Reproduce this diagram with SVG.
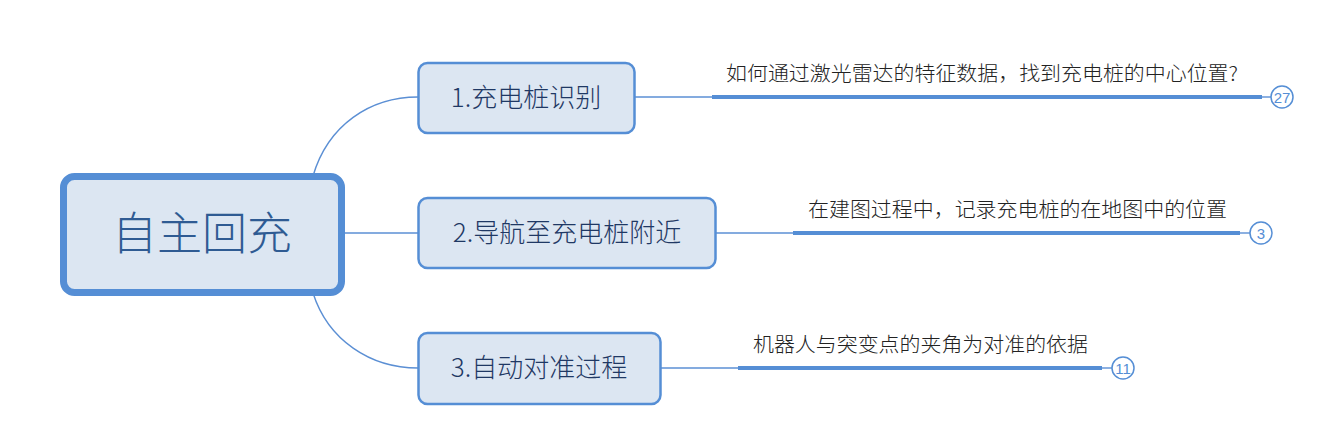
<svg xmlns="http://www.w3.org/2000/svg" width="1339" height="448" viewBox="0 0 1339 448">
<style>
.conn{fill:none;stroke:#5b8fd4;stroke-width:1.4}
.bar{fill:none;stroke:#558ed5;stroke-width:4}
.badge{fill:#fff;stroke:#558ed5;stroke-width:1.5}
.badge-t{font-family:"Liberation Sans",Arial,sans-serif;font-size:15px;fill:#558ed5;text-anchor:middle}
.node{fill:#dce6f2;stroke:#558ed5;stroke-width:2.5}
.node-t{font-family:"Noto Sans CJK SC","Microsoft YaHei",sans-serif;font-size:26px;font-weight:300;fill:#1f3864;text-anchor:middle}
.leaf-t{font-family:"Noto Sans CJK SC","Microsoft YaHei",sans-serif;font-size:20px;font-weight:300;fill:#222}
</style>
<rect width="1339" height="448" fill="#fff"/>
<g id="connectors">
<path class="conn" d="M313,176 C328,125 370,97 418,97"/>
<path class="conn" d="M345,233 L418,233"/>
<path class="conn" d="M313,293 C328,340 370,368 418,368"/>
<path class="conn" d="M635,97 L712,97"/>
<path class="bar" d="M712,97 L1262,97"/>
<path class="conn" d="M1262,97 L1271,97"/>
<path class="conn" d="M716,233 L793,233"/>
<path class="bar" d="M793,233 L1240,233"/>
<path class="conn" d="M1240,233 L1250,233"/>
<path class="conn" d="M661,368 L738,368"/>
<path class="bar" d="M738,368 L1102,368"/>
<path class="conn" d="M1102,368 L1112,368"/>
</g>
<g id="root">
<rect x="63.5" y="176.5" width="278" height="116" rx="11" fill="#dce6f2" stroke="#558ed5" stroke-width="7"/>
<text x="202" y="250" font-family="'Noto Sans CJK SC','Microsoft YaHei',sans-serif" font-size="45" font-weight="300" fill="#2f5b93" text-anchor="middle">自主回充</text>
</g>
<g id="node1">
<rect class="node" x="418.5" y="63" width="216" height="70" rx="9"/>
<text class="node-t" x="526" y="107">1.充电桩识别</text>
</g>
<g id="node2">
<rect class="node" x="418.5" y="198" width="297" height="70" rx="9"/>
<text class="node-t" x="567" y="242">2.导航至充电桩附近</text>
</g>
<g id="node3">
<rect class="node" x="418.5" y="333" width="242" height="71" rx="9"/>
<text class="node-t" x="539" y="377">3.自动对准过程</text>
</g>
<g id="leaf1">
<text class="leaf-t" x="726" y="81" textLength="512" lengthAdjust="spacingAndGlyphs">如何通过激光雷达的特征数据，找到充电桩的中心位置?</text>
<circle class="badge" cx="1282" cy="97" r="11"/>
<text class="badge-t" x="1282" y="102.5">27</text>
</g>
<g id="leaf2">
<text class="leaf-t" x="808" y="217" textLength="419" lengthAdjust="spacingAndGlyphs">在建图过程中，记录充电桩的在地图中的位置</text>
<circle class="badge" cx="1261" cy="233" r="11"/>
<text class="badge-t" x="1261" y="238.5">3</text>
</g>
<g id="leaf3">
<text class="leaf-t" x="753" y="352" textLength="335" lengthAdjust="spacingAndGlyphs">机器人与突变点的夹角为对准的依据</text>
<circle class="badge" cx="1123" cy="368" r="11"/>
<text class="badge-t" x="1123" y="373.5">11</text>
</g>
</svg>
